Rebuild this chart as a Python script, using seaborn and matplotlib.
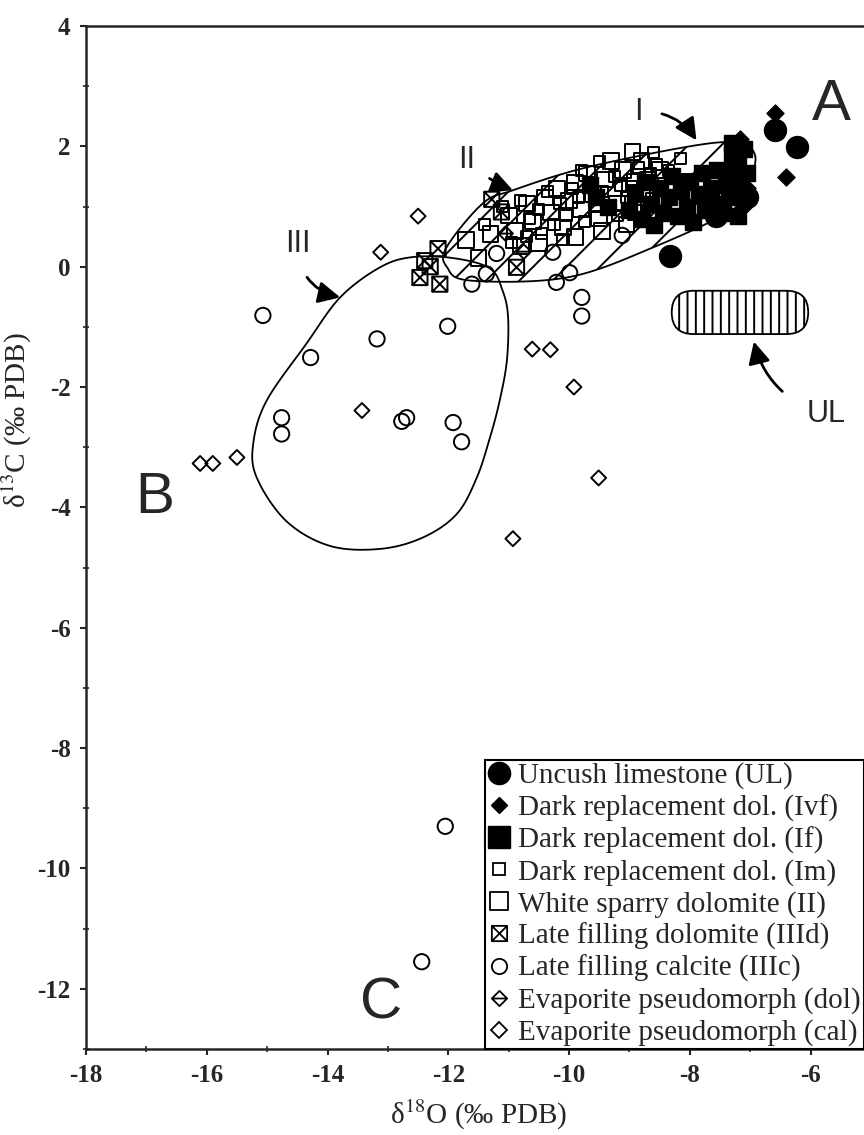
import matplotlib
matplotlib.use("Agg")
import matplotlib.pyplot as plt
import seaborn as sns
import numpy as np
from matplotlib.path import Path
from matplotlib.patches import Polygon, FancyBboxPatch
from matplotlib.lines import Line2D

# d18O / d13C values (per PDB)
ul_x = [-6.59, -6.23, -8.33, -7.56, -7.05]
ul_y = [2.27, 1.99, 0.18, 0.85, 1.15]

ivf_x = [-6.59, -6.40, -7.17, -7.12, -7.05, -7.35]
ivf_y = [2.55, 1.49, 2.13, 0.99, 1.30, 1.60]

if_x = [-9.0, -8.9, -8.8, -8.75, -8.65, -8.6, -8.5, -8.45, -8.35, -8.3,
        -8.2, -8.15, -8.05, -8.0, -7.95, -7.85, -7.8, -7.75, -7.65, -7.6,
        -7.55, -7.45, -7.4, -7.35, -7.3, -7.25, -7.2, -7.15, -7.1, -7.05,
        -9.55, -9.35, -9.65, -7.3, -7.2]
if_y = [0.95, 1.2, 0.8, 1.4, 1.05, 0.7, 1.3, 0.9, 1.15, 1.5,
        0.85, 1.25, 1.0, 1.4, 0.75, 1.2, 1.55, 0.95, 1.3, 1.05,
        1.6, 0.9, 1.35, 1.15, 1.85, 1.5, 1.7, 1.25, 1.95, 1.55,
        1.15, 1.0, 1.35, 2.05, 0.85]

im_x = [-11.4, -11.1, -10.95, -10.8, -10.65, -10.5, -10.35, -10.25, -10.15, -10.05,
        -9.95, -9.85, -9.75, -9.65, -9.55, -9.45, -9.35, -9.25, -9.15, -9.05,
        -8.95, -8.85, -8.75, -8.65, -8.55, -8.45, -8.35, -8.25, -8.15, -8.05,
        -10.7, -10.45, -10.1, -9.8, -9.5, -9.2, -8.9, -8.6]
im_y = [0.7, 1.0, 0.4, 1.1, 0.8, 0.95, 1.25, 0.7, 1.05, 0.85,
        1.3, 1.15, 0.75, 1.4, 1.0, 1.25, 0.95, 1.5, 1.35, 1.15,
        1.45, 1.65, 1.25, 1.55, 1.7, 1.3, 1.6, 1.5, 1.8, 1.45,
        0.5, 0.55, 0.45, 1.6, 1.75, 0.85, 1.0, 1.9]

ii_x = [-11.7, -11.5, -11.3, -11.0, -10.9, -10.7, -10.6, -10.4, -10.3, -10.2,
        -10.1, -10.0, -9.9, -9.8, -9.7, -9.6, -9.5, -9.4, -9.3, -9.2,
        -9.1, -9.0, -8.9, -8.8, -8.7, -8.6, -8.5, -8.4,
        -10.8, -10.5, -9.9, -9.45, -9.05, -8.95]
ii_y = [0.45, 0.15, 0.55, 0.85, 0.6, 1.05, 0.75, 1.15, 0.9, 1.3,
        0.65, 1.1, 1.4, 0.95, 1.55, 1.2, 0.8, 1.45, 1.75, 1.05,
        1.6, 1.3, 0.9, 1.75, 1.45, 1.1, 1.6, 1.35,
        0.35, 0.4, 0.5, 0.6, 0.7, 1.9]

iiid_x = [-12.39, -12.17, -12.47, -12.14, -12.30, -11.28, -11.12, -10.87]
iiid_y = [0.10, 0.30, -0.18, -0.29, 0.00, 1.12, 0.91, -0.01]

iiic_x = [-15.07, -13.18, -14.28, -14.76, -14.76, -12.77, -12.69, -11.92, -11.78, -12.01,
          -11.61, -11.37, -11.20, -10.27, -10.21, -9.99, -9.79, -9.79, -9.12, -12.05, -12.44]
iiic_y = [-0.81, -1.20, -1.51, -2.51, -2.78, -2.57, -2.51, -2.59, -2.91, -0.99,
          -0.29, -0.12, 0.22, 0.24, -0.26, -0.10, -0.51, -0.82, 0.52, -9.30, -11.55]

evd_x = [-11.05, -10.75]
evd_y = [0.55, 0.25]

evc_x = [-13.43, -16.11, -15.90, -15.50, -12.50, -13.12, -10.61, -10.31, -9.92, -9.51, -10.93]
evc_y = [-2.39, -3.27, -3.27, -3.17, 0.84, 0.24, -1.37, -1.38, -2.00, -3.51, -4.52]

legend_labels = ["Uncush limestone (UL)", "Dark replacement dol. (Ivf)",
                 "Dark replacement dol. (If)", "Dark replacement dol. (Im)",
                 "White sparry dolomite (II)", "Late filling dolomite (IIId)",
                 "Late filling calcite (IIIc)", "Evaporite pseudomorph (dol)",
                 "Evaporite pseudomorph (cal)"]

# field outlines (hand traced)
region_I_x = [-12.03, -11.43, -10.93, -9.71, -7.88, -7.17, -6.92, -7.0, -7.22, -8.61, -10.04, -11.64, -12.02]
region_I_y = [0.32, 1.05, 1.27, 1.65, 2.02, 2.05, 1.85, 1.43, 0.99, 0.32, -0.18, -0.23, -0.01]
region_III_x = [-12.59, -11.9, -11.31, -11.10, -11.01, -11.03, -11.15, -11.31, -11.53, -11.86,
                -12.42, -13.13, -13.96, -14.68, -15.17, -15.23, -15.01, -14.35, -13.79, -13.13]
region_III_y = [0.16, 0.14, -0.03, -0.40, -0.84, -1.56, -2.23, -2.84, -3.51, -4.11,
                -4.50, -4.69, -4.64, -4.23, -3.51, -2.94, -2.23, -1.28, -0.51, -0.01]

x_ticks = [-18, -16, -14, -12, -10, -8, -6]
y_ticks = [-12, -10, -8, -6, -4, -2, 0, 2, 4]


def smooth_closed(xs, ys, n=20):
    # closed Catmull-Rom curve through the traced outline points
    pts = np.column_stack([xs, ys])
    P = np.vstack([pts[-1], pts, pts[0], pts[1]])
    t = np.linspace(0, 1, n, endpoint=False)[:, None]
    out = []
    for i in range(1, len(pts) + 1):
        p0, p1, p2, p3 = P[i - 1], P[i], P[i + 1], P[i + 2]
        out.append(0.5 * (2 * p1 + (-p0 + p2) * t + (2 * p0 - 5 * p1 + 4 * p2 - p3) * t ** 2
                          + (-p0 + 3 * p1 - 3 * p2 + p3) * t ** 3))
    return np.vstack(out)


# custom markers: boxed X and diamond with a bar
xsq = Path([(-1, -1), (1, -1), (1, 1), (-1, 1), (-1, -1), (-1, -1), (1, 1), (-1, 1), (1, -1)],
           [Path.MOVETO, Path.LINETO, Path.LINETO, Path.LINETO, Path.CLOSEPOLY,
            Path.MOVETO, Path.LINETO, Path.MOVETO, Path.LINETO])
dbar = Path([(0, 1), (1, 0), (0, -1), (-1, 0), (0, 1), (-1, 0), (1, 0)],
            [Path.MOVETO, Path.LINETO, Path.LINETO, Path.LINETO, Path.CLOSEPOLY,
             Path.MOVETO, Path.LINETO])

sns.set_style("ticks")
plt.rcParams["font.family"] = ["Liberation Serif", "DejaVu Serif"]
plt.rcParams["mathtext.fontset"] = "stix"
plt.rcParams["axes.unicode_minus"] = False
plt.rcParams["hatch.color"] = "black"
plt.rcParams["hatch.linewidth"] = 1.4

fig = plt.figure(figsize=(8.64, 11.35), dpi=100)
ax = fig.add_axes([0.0995, 0.0758, 0.9086, 0.9013])

# fields
ax.add_patch(Polygon(smooth_closed(region_I_x, region_I_y), closed=True, fill=False,
                     edgecolor="black", lw=1.3, hatch="/", zorder=1))
ax.add_patch(Polygon(smooth_closed(region_III_x, region_III_y), closed=True, fill=False,
                     edgecolor="black", lw=1.3, zorder=1))
ax.add_patch(FancyBboxPatch((-8.3, -1.12), 2.26, 0.72,
                            boxstyle="round,pad=0,rounding_size=0.36",
                            fill=False, edgecolor="black", lw=1.3, hatch="||", zorder=1))

open_kw = dict(facecolor="none", edgecolor="black", linewidth=1.4, zorder=3)
full_kw = dict(facecolor="black", edgecolor="black", linewidth=1, zorder=4)

sns.scatterplot(x=ii_x, y=ii_y, marker="s", s=130, ax=ax, **open_kw)
sns.scatterplot(x=im_x, y=im_y, marker="s", s=64, ax=ax, **open_kw)
sns.scatterplot(x=if_x, y=if_y, marker="s", s=130, ax=ax, **full_kw)
sns.scatterplot(x=iiid_x, y=iiid_y, marker=xsq, s=120, ax=ax, **open_kw)
sns.scatterplot(x=iiic_x, y=iiic_y, marker="o", s=121, ax=ax, **open_kw)
sns.scatterplot(x=evd_x, y=evd_y, marker=dbar, s=110, ax=ax, **open_kw)
sns.scatterplot(x=evc_x, y=evc_y, marker="D", s=58, ax=ax, **open_kw)
sns.scatterplot(x=ivf_x, y=ivf_y, marker="D", s=75, ax=ax, **full_kw)
sns.scatterplot(x=ul_x, y=ul_y, marker="o", s=250, ax=ax, **full_kw)

ax.set_xlim(-18, -5)
ax.set_ylim(-13, 4)
ax.set_xticks(x_ticks)
ax.set_xticklabels([str(v) for v in x_ticks], fontweight="bold", fontsize=18)
ax.set_yticks(y_ticks)
ax.set_yticklabels([str(v) for v in y_ticks], fontweight="bold", fontsize=18)
ax.set_xticks(np.arange(-17, -4, 2), minor=True)
ax.set_yticks(np.arange(-13, 4, 2), minor=True)
ax.tick_params(which="major", direction="out", length=4, width=1.5, pad=7)
ax.tick_params(which="minor", direction="inout", length=4, width=1.2)
for sp in ax.spines.values():
    sp.set_linewidth(1.8)

ax.set_xlabel("δ$^{18}$O (‰ PDB)", fontsize=21, labelpad=8)
ax.set_ylabel("δ$^{13}$C (‰ PDB)", fontsize=21)
ax.yaxis.set_label_coords(-0.066, 0.615)

# annotations
sans = ["Liberation Sans", "DejaVu Sans"]
for txt, xx, yy in [("A", -5.65, 2.68), ("B", -16.86, -3.84), ("C", -13.12, -12.25)]:
    ax.text(xx, yy, txt, fontsize=42, family=sans, ha="center", va="center")

arrow = dict(arrowstyle="-|>,head_length=0.6,head_width=0.3", color="black", lw=2)
ax.annotate("I", xy=(-7.89, 2.10), xytext=(-8.86, 2.57), fontsize=22, family=sans,
            ha="center", va="center",
            arrowprops=dict(connectionstyle="arc3,rad=-0.3", shrinkA=12, shrinkB=0, **arrow))
ax.annotate("II", xy=(-10.93, 1.27), xytext=(-11.7, 1.77), fontsize=22, family=sans,
            ha="center", va="center",
            arrowprops=dict(connectionstyle="arc3,rad=0.1", shrinkA=10, shrinkB=0, **arrow))
ax.annotate("III", xy=(-13.79, -0.51), xytext=(-14.49, 0.38), fontsize=22, family=sans,
            ha="center", va="center",
            arrowprops=dict(connectionstyle="arc3,rad=0.4", shrinkA=12, shrinkB=0, **arrow))
ax.annotate("UL", xy=(-6.95, -1.2), xytext=(-5.75, -2.45), fontsize=22, family=sans,
            ha="center", va="center",
            arrowprops=dict(connectionstyle="arc3,rad=-0.3", shrinkA=18, shrinkB=2, **arrow))

handles = [
    Line2D([], [], ls="none", marker="o", ms=16, mfc="black", mec="black"),
    Line2D([], [], ls="none", marker="D", ms=8, mfc="black", mec="black"),
    Line2D([], [], ls="none", marker="s", ms=16, mfc="black", mec="black"),
    Line2D([], [], ls="none", marker="s", ms=9, mfc="none", mec="black", mew=1.3),
    Line2D([], [], ls="none", marker="s", ms=13, mfc="none", mec="black", mew=1.3),
    Line2D([], [], ls="none", marker=xsq, ms=11, mfc="none", mec="black", mew=1.3),
    Line2D([], [], ls="none", marker="o", ms=11, mfc="none", mec="black", mew=1.3),
    Line2D([], [], ls="none", marker=dbar, ms=11, mfc="none", mec="black", mew=1.3),
    Line2D([], [], ls="none", marker="D", ms=8, mfc="none", mec="black", mew=1.3),
]
leg = ax.legend(handles, legend_labels, loc="lower left", bbox_to_anchor=(0.508, 0.0),
                borderaxespad=0, fancybox=False, framealpha=1, edgecolor="black",
                handlelength=0.8, handletextpad=0.25, borderpad=0.1, labelspacing=0.17,
                prop={"size": 21})
leg.get_frame().set_linewidth(1.5)
leg.set_zorder(10)

fig.savefig("out.png", dpi=100)
